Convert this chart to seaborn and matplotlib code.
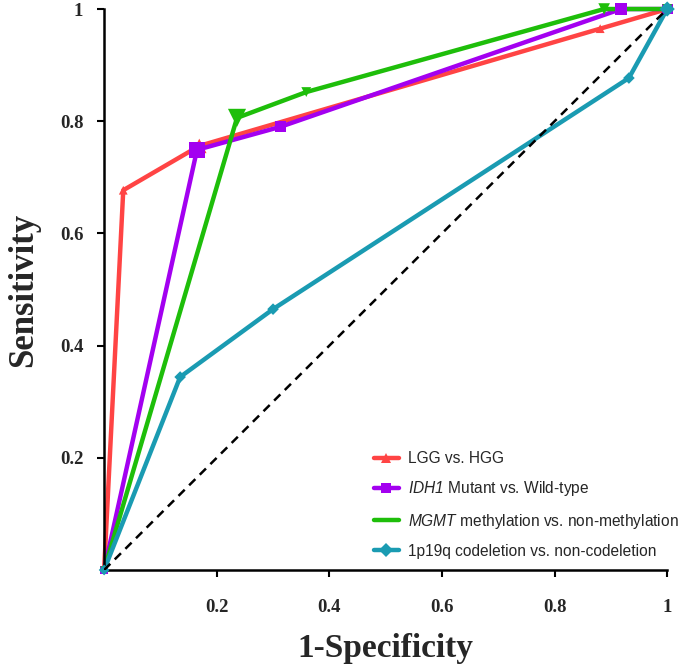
import pandas as pd
import seaborn as sns
import matplotlib.pyplot as plt
from matplotlib.lines import Line2D

# ROC points
groups = ["LGG vs. HGG", "IDH1 Mutant vs. Wild-type",
          "MGMT methylation vs. non-methylation", "1p19q codeletion vs. non-codeletion"]
fpr_lgg = [0.0, 0.034, 0.169, 0.881, 1.0]
tpr_lgg = [0.0, 0.677, 0.756, 0.965, 1.0]
fpr_idh = [0.0, 0.165, 0.313, 0.918, 1.0]
tpr_idh = [0.0, 0.749, 0.790, 1.0, 1.0]
fpr_mgmt = [0.0, 0.236, 0.359, 0.888, 1.0]
tpr_mgmt = [0.0, 0.806, 0.852, 1.0, 1.0]
fpr_1p19q = [0.0, 0.135, 0.300, 0.932, 1.0]
tpr_1p19q = [0.0, 0.344, 0.465, 0.877, 1.0]
ticks = [0.2, 0.4, 0.6, 0.8, 1.0]
tick_labels = ["0.2", "0.4", "0.6", "0.8", "1"]

fprs = [fpr_lgg, fpr_idh, fpr_mgmt, fpr_1p19q]
tprs = [tpr_lgg, tpr_idh, tpr_mgmt, tpr_1p19q]
df = pd.concat([pd.DataFrame({"fpr": f, "tpr": t, "group": g})
                for f, t, g in zip(fprs, tprs, groups)], ignore_index=True)

# styles
colors = ["#FF4444", "#A300F0", "#1EBE0A", "#1A9BB2"]
markers = ["^", "s", "v", "D"]
msizes = [[30, 40, 110, 40, 30],
          [30, 130, 60, 80, 60],
          [30, 170, 50, 70, 50],
          [30, 35, 35, 35, 60]]
leg_labels = ["LGG vs. HGG", r"$\mathit{IDH1}$ Mutant vs. Wild-type",
              r"$\mathit{MGMT}$ methylation vs. non-methylation",
              "1p19q codeletion vs. non-codeletion"]

sns.set_style("ticks")
plt.rcParams["mathtext.fontset"] = "custom"
plt.rcParams["mathtext.it"] = "Liberation Sans:italic"
plt.rcParams["mathtext.rm"] = "Liberation Sans:italic"

fig = plt.figure(figsize=(6.85, 6.69), dpi=100)
ax = fig.add_axes([0.152, 0.148, 0.822, 0.8385])

sns.lineplot(data=df, x="fpr", y="tpr", hue="group", palette=colors, sort=False,
             estimator=None, lw=3.2, legend=False, ax=ax, clip_on=False)
for f, t, c, m, s in zip(fprs, tprs, colors, markers, msizes):
    ax.scatter(f, t, s=s, marker=m, color=c, zorder=3, clip_on=False, linewidths=0)

ax.plot([0, 1], [0, 1], ls=(0, (3.5, 2.5)), color="black", lw=1.8, zorder=4)

ax.set_xlim(0, 1)
ax.set_ylim(0, 1)
ax.set_xticks(ticks)
ax.set_yticks(ticks)
ax.set_xticklabels(tick_labels, fontfamily="Liberation Serif", fontweight="bold", fontsize=13.5)
ax.set_yticklabels(tick_labels, fontfamily="Liberation Serif", fontweight="bold", fontsize=13.5)
ax.tick_params(width=1.5, length=5, color="black")
ax.tick_params(axis="x", pad=16)
ax.tick_params(axis="y", pad=10)
for sp in ["left", "bottom"]:
    ax.spines[sp].set_linewidth(1.8)
    ax.spines[sp].set_color("black")
sns.despine(ax=ax)

ax.set_xlabel("1-Specificity", fontfamily="Liberation Serif", fontweight="bold",
              fontsize=24, labelpad=12)
ax.set_ylabel("Sensitivity", fontfamily="Liberation Serif", fontweight="bold",
              fontsize=25, labelpad=14)

handles = []
for i, (c, m) in enumerate(zip(colors, markers)):
    handles.append(Line2D([], [], color=c, lw=3.2, marker=m if i != 2 else None,
                          markersize=7, markeredgewidth=0))
ax.legend(handles, leg_labels, loc="lower right", bbox_to_anchor=(1.045, -0.005),
          frameon=False, prop={"family": "Liberation Sans", "size": 11.2},
          handlelength=1.6, handletextpad=0.6, labelspacing=0.85)

fig.savefig("out.png", dpi=100)
